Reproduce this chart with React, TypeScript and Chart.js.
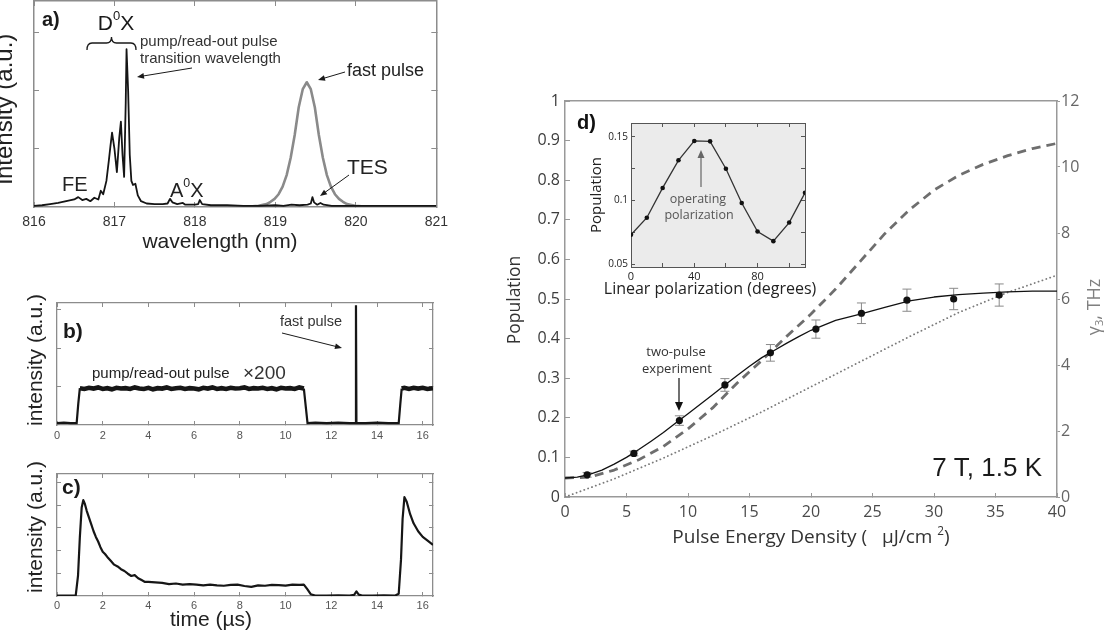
import React, { useEffect, useRef } from 'react';
import { Chart, registerables } from 'chart.js';

Chart.register(...registerables);

const SANS = '"Liberation Sans", Arial, sans-serif';
const MYRIAD = '"Open Sans", "Noto Sans", sans-serif';

// ---------------- Panel a: PL spectrum ----------------
const specWavelength = [816.0, 816.1, 816.2, 816.3, 816.4, 816.5, 816.55, 816.6, 816.65, 816.7, 816.75, 816.8, 816.83, 816.86, 816.9, 816.93, 816.95, 816.97, 817.0, 817.03, 817.06, 817.08, 817.1, 817.12, 817.14, 817.15, 817.17, 817.19, 817.21, 817.23, 817.26, 817.29, 817.33, 817.4, 817.5, 817.6, 817.66, 817.69, 817.72, 817.78, 817.85, 817.88, 817.92, 818.0, 818.04, 818.06, 818.09, 818.2, 818.4, 818.6, 818.8, 819.0, 819.1, 819.2, 819.3, 819.4, 819.44, 819.46, 819.48, 819.52, 819.56, 819.6, 819.7, 819.8, 820.0, 820.3, 820.6, 821.0];
const specIntensity = [0.02, 0.03, 0.05, 0.07, 0.1, 0.13, 0.17, 0.12, 0.14, 0.1, 0.16, 0.13, 0.28, 0.22, 0.45, 0.8, 1.05, 1.28, 1.0, 0.6, 1.2, 1.47, 0.9, 0.52, 1.8, 2.72, 2.0, 0.9, 0.45, 0.38, 0.4, 0.2, 0.1, 0.06, 0.05, 0.05, 0.06, 0.14, 0.08, 0.05, 0.07, 0.04, 0.04, 0.04, 0.05, 0.12, 0.05, 0.03, 0.03, 0.02, 0.02, 0.03, 0.02, 0.04, 0.03, 0.04, 0.06, 0.17, 0.08, 0.04, 0.07, 0.04, 0.02, 0.02, 0.02, 0.02, 0.02, 0.02];
const fastWavelength = [818.6, 818.79, 818.89, 818.94, 818.99, 819.04, 819.09, 819.14, 819.19, 819.24, 819.29, 819.34, 819.39, 819.44, 819.49, 819.54, 819.59, 819.64, 819.69, 819.74, 819.79, 819.84, 819.89, 819.99, 820.2];
const fastIntensity = [0.0, 0.02, 0.05, 0.09, 0.14, 0.22, 0.35, 0.55, 0.85, 1.24, 1.72, 2.03, 2.15, 2.03, 1.72, 1.24, 0.85, 0.55, 0.35, 0.22, 0.14, 0.09, 0.05, 0.02, 0.0];
const waveTicks = [816, 817, 818, 819, 820, 821];
const intensityTicksA = [1, 2, 3];

// ---------------- Panel b: pulse sequence ----------------
const pumpTime = [0, 0.3, 0.6, 0.86, 0.93,
  1.0, 1.2, 1.4, 1.6, 1.8, 2.0, 2.2, 2.4, 2.6, 2.8, 3.0, 3.2, 3.4, 3.6, 3.8, 4.0, 4.2, 4.4, 4.6, 4.8, 5.0, 5.2, 5.4, 5.6, 5.8, 6.0, 6.2, 6.4, 6.6, 6.8, 7.0, 7.2, 7.4, 7.6, 7.8, 8.0, 8.2, 8.4, 8.6, 8.8, 9.0, 9.2, 9.4, 9.6, 9.8, 10.0, 10.2, 10.4, 10.6, 10.8,
  10.88, 10.96, 11.3, 11.8, 12.3, 12.8, 13.06, 13.08, 13.1, 13.5, 14.0, 14.5, 14.95, 15.02, 15.08, 15.2, 15.4, 15.6, 15.8, 16.0, 16.2, 16.45];
const pumpSignal = [0.05, 0.06, 0.05, 0.05, 0.55,
  0.96, 0.94, 0.97, 0.95, 0.98, 0.94, 0.96, 0.93, 0.97, 0.95, 0.96, 0.94, 0.98, 0.95, 0.94, 0.97, 0.93, 0.96, 0.95, 0.98, 0.94, 0.96, 0.97, 0.94, 0.96, 0.95, 0.93, 0.97, 0.95, 0.98, 0.94, 0.96, 0.94, 0.97, 0.95, 0.96, 0.98, 0.94, 0.96, 0.95, 0.97, 0.94, 0.96, 0.93, 0.97, 0.95, 0.96, 0.94, 0.98, 0.95,
  0.5, 0.05, 0.06, 0.05, 0.06, 0.05, 0.05, 3.12, 0.05, 0.05, 0.06, 0.05, 0.05, 0.55, 0.95, 0.97, 0.94, 0.97, 0.95, 0.97, 0.94, 0.96];
const timeTicks = [0, 2, 4, 6, 8, 10, 12, 14, 16];
const pumpTicksY = [1, 2, 3];

// ---------------- Panel c: fluorescence ----------------
const decayTime = [0, 0.5, 0.82, 0.92, 1.0, 1.08, 1.15, 1.22, 1.3, 1.4, 1.5, 1.6, 1.7, 1.8, 1.9, 2.0, 2.1, 2.2, 2.35, 2.5, 2.65, 2.8, 2.95, 3.1, 3.25, 3.4, 3.55, 3.7, 3.85, 4.0, 4.3, 4.6, 4.9, 5.2, 5.5, 5.8, 6.1, 6.4, 6.7, 7.0, 7.3, 7.6, 7.9, 8.2, 8.5, 8.8, 9.1, 9.4, 9.7, 10.0, 10.3, 10.6, 10.8, 10.95, 11.1, 11.3, 11.8, 12.3, 12.8, 13.0, 13.1, 13.2, 13.35, 13.8, 14.3, 14.8, 14.95, 15.05, 15.12, 15.2, 15.3, 15.45, 15.6, 15.8, 16.0, 16.2, 16.45];
const decaySignal = [0.02, 0.02, 0.03, 0.9, 2.6, 3.9, 4.22, 4.05, 3.75, 3.45, 3.15, 2.85, 2.6, 2.4, 2.15, 1.95, 1.85, 1.72, 1.55, 1.38, 1.3, 1.18, 1.1, 0.98, 0.88, 0.92, 0.78, 0.7, 0.62, 0.62, 0.6, 0.58, 0.52, 0.55, 0.5, 0.52, 0.5, 0.47, 0.5, 0.47, 0.45, 0.49, 0.5, 0.44, 0.4, 0.47, 0.45, 0.49, 0.48, 0.46, 0.5, 0.49, 0.5, 0.3, 0.08, 0.02, 0.02, 0.03, 0.02, 0.05, 0.2, 0.06, 0.02, 0.02, 0.03, 0.02, 0.1, 1.6, 3.4, 4.35, 4.15, 3.6, 3.2, 2.85, 2.6, 2.45, 2.25];
const decayTicksY = [1, 2, 3, 4, 5];

// ---------------- Panel d: population vs pulse energy ----------------
const energy = [1.8, 5.6, 9.3, 13.0, 16.7, 20.4, 24.1, 27.8, 31.6, 35.3];
const population = [0.056, 0.110, 0.193, 0.283, 0.364, 0.424, 0.464, 0.497, 0.500, 0.510];
const populationErr = [0.006, 0.006, 0.012, 0.016, 0.021, 0.023, 0.026, 0.028, 0.027, 0.028];
const fitEnergy = [0, 1, 2, 3, 4, 5, 6, 7, 8, 9, 10, 11, 12, 13, 14, 15, 16, 17, 18, 19, 20, 22, 24, 26, 28, 30, 32, 34, 36, 38, 40];
const fitPopulation = [0.048, 0.050, 0.057, 0.068, 0.083, 0.100, 0.120, 0.141, 0.163, 0.187, 0.210, 0.234, 0.258, 0.283, 0.307, 0.330, 0.352, 0.370, 0.388, 0.405, 0.421, 0.446, 0.462, 0.479, 0.495, 0.505, 0.511, 0.515, 0.518, 0.520, 0.520];
const dashEnergy = [0, 2, 4, 6, 8, 10, 12, 14, 16, 18, 20, 22, 24, 26, 28, 30, 32, 34, 36, 38, 40];
const dashPopulation = [0.048, 0.050, 0.068, 0.094, 0.128, 0.172, 0.225, 0.288, 0.345, 0.405, 0.462, 0.525, 0.595, 0.665, 0.725, 0.775, 0.812, 0.840, 0.862, 0.880, 0.893];
const dotEnergy = [0, 4, 8, 12, 16, 20, 24, 28, 32, 36, 40];
const dotGamma = [0, 0.55, 1.18, 1.86, 2.58, 3.34, 4.1, 4.86, 5.59, 6.2, 6.72];
const energyTicks = [0, 5, 10, 15, 20, 25, 30, 35, 40];
const popTicks = [0, 0.1, 0.2, 0.3, 0.4, 0.5, 0.6, 0.7, 0.8, 0.9, 1];
const gammaTicks = [0, 2, 4, 6, 8, 10, 12];

// ---------------- Inset: polarization ----------------
const polAngle = [0, 10, 20, 30, 40, 50, 60, 70, 80, 90, 100, 110];
const polPopulation = [0.073, 0.0864, 0.1098, 0.1315, 0.1467, 0.1464, 0.1249, 0.098, 0.0756, 0.068, 0.0826, 0.106];
const polTicksX = [0, 20, 40, 60, 80, 100];
const polLabelsX = [0, 40, 80];
const polTicksY = [0.05, 0.075, 0.1, 0.125, 0.15];
const polLabelsY = [0.05, 0.1, 0.15];

// ---------------- helpers ----------------
const fmt = (v: number) => String(Math.round(v * 10000) / 10000);
const pts = (xs: number[], ys: number[]) => xs.map((x, i) => ({ x, y: ys[i] }));

function axis(o: any) {
  const horizontal = o.pos === 'top' || o.pos === 'bottom';
  return {
    type: 'linear',
    position: o.pos,
    min: o.min,
    max: o.max,
    afterBuildTicks: (s: any) => {
      s.ticks = o.ticks.map((v: number) => ({ value: v }));
    },
    afterFit: (s: any) => {
      if (horizontal) s.height = o.size;
      else s.width = o.size;
    },
    grid: {
      display: o.ticks.length > 0,
      drawOnChartArea: false,
      drawTicks: true,
      tickLength: o.tickLen,
      color: o.line,
      tickColor: o.line,
      tickWidth: 1,
    },
    border: { display: true, color: o.line, width: o.lineWidth ?? 1 },
    ticks: {
      display: !!o.labels,
      padding: o.pad ?? 0,
      autoSkip: false,
      maxRotation: 0,
      minRotation: 0,
      font: o.font,
      color: o.color,
      callback: (v: any) =>
        o.labels && o.labels.some((l: number) => Math.abs(l - Number(v)) < 1e-9) ? fmt(Number(v)) : '',
    },
    title: { display: false },
  };
}

function lineDs(xs: number[], ys: number[], o: any) {
  return {
    data: pts(xs, ys),
    borderColor: o.color,
    borderWidth: o.width,
    borderDash: o.dash || [],
    borderCapStyle: o.cap || 'butt',
    borderJoinStyle: o.join || 'round',
    pointRadius: 0,
    fill: false,
    tension: 0,
    xAxisID: 'x',
    yAxisID: o.yAxis || 'y',
    ...(o.segment ? { segment: o.segment } : {}),
  };
}

function baseOptions(padding: any, scales: any) {
  return {
    responsive: false,
    animation: false,
    devicePixelRatio: 1,
    events: [],
    layout: { padding: { left: 0, right: 0, top: 0, bottom: 0, ...padding } },
    plugins: { legend: { display: false }, tooltip: { enabled: false }, title: { display: false } },
    scales,
  };
}

function drawText(ctx: CanvasRenderingContext2D, it: any, ox: number, oy: number) {
  ctx.save();
  ctx.translate(it.x - ox, it.y - oy);
  if (it.rot) ctx.rotate(it.rot);
  ctx.fillStyle = it.color || '#1a1a1a';
  ctx.textBaseline = 'middle';
  ctx.textAlign = 'left';
  const weight = it.weight || 'normal';
  const parts = it.parts || [{ t: it.text }];
  const segs = parts.map((p: any) => {
    const s = p.sup || p.sub ? it.size * 0.62 : it.size;
    ctx.font = `${weight} ${s}px ${it.family || SANS}`;
    return { p, s, w: ctx.measureText(p.t).width };
  });
  const total = segs.reduce((a: number, b: any) => a + b.w, 0);
  let x = it.align === 'left' ? 0 : it.align === 'right' ? -total : -total / 2;
  for (const sg of segs) {
    ctx.font = `${weight} ${sg.s}px ${it.family || SANS}`;
    const dy = sg.p.sup ? -it.size * 0.36 : sg.p.sub ? it.size * 0.26 : 0;
    ctx.fillText(sg.p.t, x, dy);
    x += sg.w;
  }
  ctx.restore();
}

function drawArrow(ctx: CanvasRenderingContext2D, a: any, ox: number, oy: number) {
  const x1 = a.x1 - ox, y1 = a.y1 - oy, x2 = a.x2 - ox, y2 = a.y2 - oy;
  const ang = Math.atan2(y2 - y1, x2 - x1);
  const hl = a.head || 7, hw = a.headW || 2.8;
  const c = Math.cos(ang), s = Math.sin(ang);
  ctx.save();
  ctx.strokeStyle = a.color || '#1a1a1a';
  ctx.fillStyle = a.color || '#1a1a1a';
  ctx.lineWidth = a.width || 1;
  ctx.beginPath();
  ctx.moveTo(x1, y1);
  ctx.lineTo(x2 - c * hl * 0.7, y2 - s * hl * 0.7);
  ctx.stroke();
  ctx.beginPath();
  ctx.moveTo(x2, y2);
  ctx.lineTo(x2 - hl * c - hw * s, y2 - hl * s + hw * c);
  ctx.lineTo(x2 - hl * c + hw * s, y2 - hl * s - hw * c);
  ctx.closePath();
  ctx.fill();
  ctx.restore();
}

function drawBrace(ctx: CanvasRenderingContext2D, b: any, ox: number, oy: number) {
  const x1 = b.x1 - ox, x2 = b.x2 - ox, xm = (x1 + x2) / 2;
  const ye = b.yEnd - oy, ya = b.yArm - oy, yt = b.yTip - oy;
  ctx.save();
  ctx.strokeStyle = b.color || '#1a1a1a';
  ctx.lineWidth = b.width || 1.3;
  ctx.beginPath();
  ctx.moveTo(x1, ye);
  ctx.quadraticCurveTo(x1, ya, x1 + 5, ya);
  ctx.lineTo(xm - 5, ya);
  ctx.quadraticCurveTo(xm, ya, xm, yt);
  ctx.quadraticCurveTo(xm, ya, xm + 5, ya);
  ctx.lineTo(x2 - 5, ya);
  ctx.quadraticCurveTo(x2, ya, x2, ye);
  ctx.stroke();
  ctx.restore();
}

function overlay(id: string, ox: number, oy: number, items: any[], extra: any = {}) {
  return {
    id,
    beforeDraw(chart: any) {
      if (!extra.bg) return;
      const { left, top, width, height } = chart.chartArea;
      chart.ctx.save();
      chart.ctx.fillStyle = extra.bg;
      chart.ctx.fillRect(left, top, width, height);
      chart.ctx.restore();
    },
    beforeDatasetsDraw(chart: any) {
      if (!extra.errors) return;
      const { xs, ys, es, color, cap } = extra.errors;
      const sx = chart.scales.x, sy = chart.scales.y, ctx = chart.ctx;
      ctx.save();
      ctx.strokeStyle = color;
      ctx.lineWidth = 1;
      xs.forEach((xv: number, i: number) => {
        const px = sx.getPixelForValue(xv);
        const top = sy.getPixelForValue(ys[i] + es[i]);
        const bot = sy.getPixelForValue(ys[i] - es[i]);
        ctx.beginPath();
        ctx.moveTo(px, top);
        ctx.lineTo(px, bot);
        ctx.moveTo(px - cap, top);
        ctx.lineTo(px + cap, top);
        ctx.moveTo(px - cap, bot);
        ctx.lineTo(px + cap, bot);
        ctx.stroke();
      });
      ctx.restore();
    },
    afterDraw(chart: any) {
      const ctx = chart.ctx;
      for (const it of items) {
        if (it.kind === 'arrow') drawArrow(ctx, it, ox, oy);
        else if (it.kind === 'brace') drawBrace(ctx, it, ox, oy);
        else drawText(ctx, it, ox, oy);
      }
    },
  };
}

const GRAY_AX = '#8c8c8c';

// ---------------- chart configs ----------------
function makeA() {
  const ox = 0, oy = 0;
  const tickFont = { family: SANS, size: 14 };
  const items = [
    { x: 42, y: 20, text: 'a)', size: 20, weight: 'bold', align: 'left' },
    { x: 116, y: 24, parts: [{ t: 'D' }, { t: '0', sup: true }, { t: 'X' }], size: 21 },
    { kind: 'brace', x1: 87, x2: 136, yEnd: 50, yArm: 43, yTip: 37, width: 1.3 },
    { x: 140, y: 42, text: 'pump/read-out pulse', size: 15, align: 'left', color: '#333' },
    { x: 140, y: 59, text: 'transition wavelength', size: 15, align: 'left', color: '#333' },
    { kind: 'arrow', x1: 192, y1: 68, x2: 137, y2: 77, width: 1 },
    { x: 347, y: 71, text: 'fast pulse', size: 18, align: 'left', color: '#222' },
    { kind: 'arrow', x1: 345, y1: 72, x2: 318, y2: 80, width: 1 },
    { x: 347, y: 168, text: 'TES', size: 21, align: 'left', color: '#222' },
    { kind: 'arrow', x1: 349, y1: 175, x2: 320, y2: 196, width: 1 },
    { x: 62, y: 185, text: 'FE', size: 20, align: 'left', color: '#222' },
    { x: 170, y: 191, parts: [{ t: 'A' }, { t: '0', sup: true }, { t: 'X' }], size: 20, align: 'left', color: '#222' },
    { x: 5, y: 109, text: 'intensity (a.u.)', size: 24, rot: -Math.PI / 2, color: '#222' },
    { x: 220, y: 242, text: 'wavelength (nm)', size: 21, color: '#222' },
  ];
  return {
    type: 'line',
    data: {
      datasets: [
        lineDs(specWavelength, specIntensity, { color: '#151515', width: 1.8 }),
        lineDs(fastWavelength, fastIntensity, { color: '#8a8a8a', width: 2.6 }),
      ],
    },
    options: baseOptions({ top: 1, right: 23 }, {
      x: axis({ pos: 'bottom', min: 816, max: 821, ticks: waveTicks, labels: waveTicks, size: 45, tickLen: -5, pad: 12, font: tickFont, color: '#333', line: GRAY_AX, lineWidth: 1.5 }),
      xTop: axis({ pos: 'top', min: 816, max: 821, ticks: waveTicks, size: 0, tickLen: -5, line: GRAY_AX, lineWidth: 1.5 }),
      y: axis({ pos: 'left', min: 0, max: 3.55, ticks: intensityTicksA, size: 34, tickLen: -5, line: GRAY_AX, lineWidth: 1.5 }),
      yRight: axis({ pos: 'right', min: 0, max: 3.55, ticks: intensityTicksA, size: 0, tickLen: -5, line: GRAY_AX, lineWidth: 1.5 }),
    }),
    plugins: [overlay('annotA', ox, oy, items)],
  };
}

function makeB() {
  const ox = 0, oy = 290;
  const tickFont = { family: SANS, size: 11 };
  const items = [
    { x: 63, y: 332, text: 'b)', size: 21, weight: 'bold', align: 'left' },
    { x: 280, y: 322, text: 'fast pulse', size: 14.5, align: 'left', color: '#333' },
    { kind: 'arrow', x1: 282, y1: 333, x2: 342, y2: 348, width: 1 },
    { x: 92, y: 374, text: 'pump/read-out pulse', size: 15, align: 'left', color: '#222' },
    { x: 243, y: 374, text: '×200', size: 19, align: 'left', color: '#333' },
    { x: 36, y: 360, text: 'intensity (a.u.)', size: 21, rot: -Math.PI / 2, color: '#222' },
  ];
  // thick noisy band on the pump plateau, thin strokes elsewhere (edges, spike, baseline)
  const segment = {
    borderWidth: (c: any) => (c.p0.parsed.y > 0.8 && c.p1.parsed.y > 0.8 && c.p0.parsed.y < 1.5 && c.p1.parsed.y < 1.5 ? 4.6 : 2.2),
  };
  return {
    type: 'line',
    data: { datasets: [lineDs(pumpTime, pumpSignal, { color: '#161616', width: 2.2, join: 'miter', segment })] },
    options: baseOptions({ top: 13, right: 17 }, {
      x: axis({ pos: 'bottom', min: 0, max: 16.45, ticks: timeTicks, labels: timeTicks, size: 25, tickLen: -4, pad: 8.4, font: tickFont, color: '#555', line: GRAY_AX, lineWidth: 1.3 }),
      xTop: axis({ pos: 'top', min: 0, max: 16.45, ticks: timeTicks, size: 0, tickLen: -4, line: GRAY_AX, lineWidth: 1.3 }),
      y: axis({ pos: 'left', min: 0, max: 3.18, ticks: pumpTicksY, size: 57, tickLen: -4, line: GRAY_AX, lineWidth: 1.3 }),
      yRight: axis({ pos: 'right', min: 0, max: 3.18, ticks: pumpTicksY, size: 0, tickLen: -4, line: GRAY_AX, lineWidth: 1.3 }),
    }),
    plugins: [overlay('annotB', ox, oy, items)],
  };
}

function makeC() {
  const ox = 0, oy = 456;
  const tickFont = { family: SANS, size: 11 };
  const items = [
    { x: 62, y: 488, text: 'c)', size: 21, weight: 'bold', align: 'left' },
    { x: 211, y: 620, text: 'time (µs)', size: 21, color: '#222' },
    { x: 36, y: 527, text: 'intensity (a.u.)', size: 21, rot: -Math.PI / 2, color: '#222' },
  ];
  return {
    type: 'line',
    data: { datasets: [lineDs(decayTime, decaySignal, { color: '#161616', width: 2.2 })] },
    options: baseOptions({ top: 18, right: 17 }, {
      x: axis({ pos: 'bottom', min: 0, max: 16.45, ticks: timeTicks, labels: timeTicks, size: 38, tickLen: -4, pad: 7.4, font: tickFont, color: '#555', line: GRAY_AX, lineWidth: 1.3 }),
      xTop: axis({ pos: 'top', min: 0, max: 16.45, ticks: timeTicks, size: 0, tickLen: -4, line: GRAY_AX, lineWidth: 1.3 }),
      y: axis({ pos: 'left', min: 0, max: 5.37, ticks: decayTicksY, size: 57, tickLen: -4, line: GRAY_AX, lineWidth: 1.3 }),
      yRight: axis({ pos: 'right', min: 0, max: 5.37, ticks: decayTicksY, size: 0, tickLen: -4, line: GRAY_AX, lineWidth: 1.3 }),
    }),
    plugins: [overlay('annotC', ox, oy, items)],
  };
}

function makeD() {
  const ox = 480, oy = 80;
  const L = '#999999';
  const tickFont = { family: MYRIAD, size: 16 };
  const items = [
    { x: 577, y: 123, text: 'd)', size: 20, weight: 'bold', align: 'left', color: '#111' },
    { x: 515, y: 300, text: 'Population', size: 17.5, family: MYRIAD, rot: -Math.PI / 2, color: '#333' },
    { x: 1095, y: 307, parts: [{ t: 'γ' }, { t: '3', sub: true }, { t: ', THz' }], size: 18, family: MYRIAD, rot: -Math.PI / 2, color: '#808080' },
    { x: 811, y: 538, parts: [{ t: 'Pulse Energy Density (   µJ/cm ' }, { t: '2', sup: true }, { t: ')' }], size: 19, family: MYRIAD, color: '#333' },
    { x: 1042, y: 469, text: '7 T, 1.5 K', size: 26, align: 'right', color: '#1a1a1a' },
    { x: 676, y: 352, text: 'two-pulse', size: 13, family: MYRIAD, color: '#333' },
    { x: 677, y: 369, text: 'experiment', size: 13, family: MYRIAD, color: '#333' },
    { kind: 'arrow', x1: 679, y1: 378, x2: 679, y2: 411, color: '#111', width: 1.2, head: 9, headW: 4 },
  ];
  return {
    type: 'line',
    data: {
      datasets: [
        {
          data: pts(energy, population),
          showLine: false,
          pointRadius: 3.6,
          pointBackgroundColor: '#111',
          pointBorderColor: '#111',
          pointBorderWidth: 0,
          xAxisID: 'x',
          yAxisID: 'y',
        },
        lineDs(fitEnergy, fitPopulation, { color: '#111', width: 1.3 }),
        lineDs(dashEnergy, dashPopulation, { color: '#6e6e6e', width: 2.8, dash: [9, 6] }),
        lineDs(dotEnergy, dotGamma, { color: '#7a7a7a', width: 1.8, dash: [0.1, 4], cap: 'round', yAxis: 'y2' }),
      ],
    },
    options: baseOptions({ top: 21 }, {
      x: axis({ pos: 'bottom', min: 0, max: 40, ticks: energyTicks, labels: energyTicks, size: 63, tickLen: -4, pad: 9.4, font: tickFont, color: '#4a4a4a', line: L, lineWidth: 1.5 }),
      xTop: axis({ pos: 'top', min: 0, max: 40, ticks: [], size: 0, tickLen: 0, line: L, lineWidth: 1.5 }),
      y: axis({ pos: 'left', min: 0, max: 1, ticks: popTicks, labels: popTicks, size: 85, tickLen: -5, pad: 10, font: tickFont, color: '#3c3c3c', line: L, lineWidth: 1.5 }),
      y2: axis({ pos: 'right', min: 0, max: 12, ticks: gammaTicks, labels: gammaTicks, size: 56, tickLen: 3, pad: 1, font: tickFont, color: '#666', line: L, lineWidth: 1.5 }),
    }),
    plugins: [overlay('annotD', ox, oy, items, { errors: { xs: energy, ys: population, es: populationErr, color: '#8a8a8a', cap: 4.5 } })],
  };
}

function makeInset() {
  const ox = 585, oy = 110;
  const L = '#555';
  const items = [
    { x: 597, y: 195, text: 'Population', size: 15, family: MYRIAD, rot: -Math.PI / 2, color: '#222' },
    { x: 710, y: 289, text: 'Linear polarization (degrees)', size: 16, family: MYRIAD, color: '#222' },
    { x: 698, y: 199, text: 'operating', size: 12.5, family: MYRIAD, color: '#555' },
    { x: 699, y: 215, text: 'polarization', size: 12.5, family: MYRIAD, color: '#555' },
    { kind: 'arrow', x1: 701, y1: 187, x2: 701, y2: 150, color: '#666', width: 1.2, head: 8, headW: 3.5 },
  ];
  return {
    type: 'line',
    data: {
      datasets: [
        {
          data: pts(polAngle, polPopulation),
          borderColor: '#333',
          borderWidth: 1.3,
          pointRadius: 2.3,
          pointBackgroundColor: '#111',
          pointBorderWidth: 0,
          tension: 0,
          fill: false,
          xAxisID: 'x',
          yAxisID: 'y',
        },
      ],
    },
    options: baseOptions({ top: 10, right: 20 }, {
      x: axis({ pos: 'bottom', min: 0, max: 110, ticks: polTicksX, labels: polLabelsX, size: 35, tickLen: -4, pad: 7.4, font: { family: MYRIAD, size: 11 }, color: '#222', line: L, lineWidth: 1 }),
      xTop: axis({ pos: 'top', min: 0, max: 110, ticks: polTicksX, size: 0, tickLen: -4, line: L, lineWidth: 1 }),
      y: axis({ pos: 'left', min: 0.0477, max: 0.1608, ticks: polTicksY, labels: polLabelsY, size: 46, tickLen: -4, pad: 7, font: { family: MYRIAD, size: 10 }, color: '#222', line: L, lineWidth: 1 }),
      yRight: axis({ pos: 'right', min: 0.0477, max: 0.1608, ticks: polTicksY, size: 0, tickLen: -4, line: L, lineWidth: 1 }),
    }),
    plugins: [overlay('annotInset', ox, oy, items, { bg: '#ebebeb' })],
  };
}

function ChartBox({ left, top, width, height, make }: any) {
  const ref = useRef<HTMLCanvasElement>(null);
  useEffect(() => {
    if (!ref.current) return;
    const chart = new Chart(ref.current, make());
    return () => chart.destroy();
  }, []);
  return (
    <canvas
      ref={ref}
      width={width}
      height={height}
      style={{ position: 'absolute', left, top, width, height, display: 'block' }}
    />
  );
}

export default function App() {
  return (
    <div style={{ position: 'absolute', left: 0, top: 0, width: 1113, height: 634, background: '#fff', overflow: 'hidden' }}>
      <ChartBox left={0} top={0} width={460} height={252} make={makeA} />
      <ChartBox left={0} top={290} width={450} height={160} make={makeB} />
      <ChartBox left={0} top={456} width={450} height={178} make={makeC} />
      <ChartBox left={480} top={80} width={633} height={480} make={makeD} />
      <ChartBox left={585} top={110} width={240} height={192} make={makeInset} />
    </div>
  );
}
